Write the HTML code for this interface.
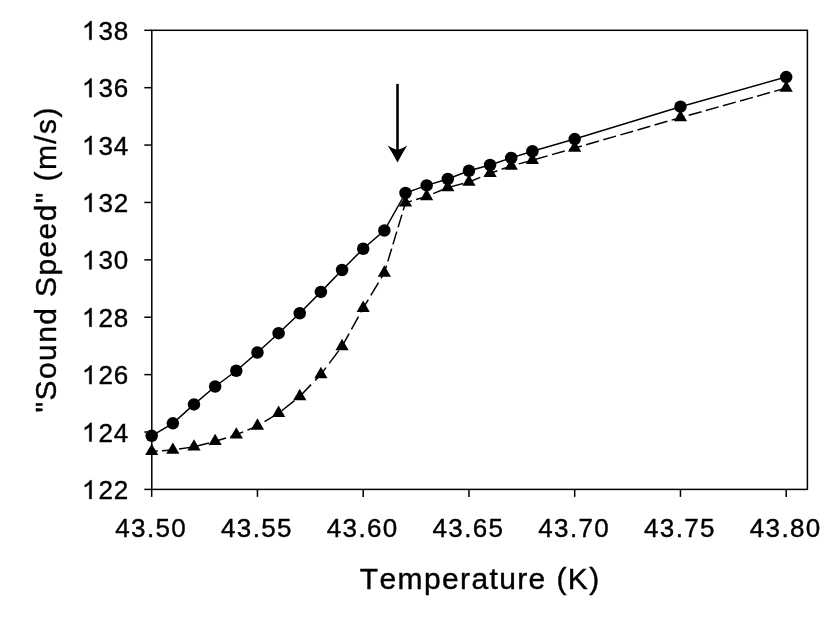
<!DOCTYPE html>
<html><head><meta charset="utf-8"><title>chart</title>
<style>
html,body{margin:0;padding:0;background:#fff;}
body{width:831px;height:626px;overflow:hidden;}
svg{display:block;will-change:transform;}
text{font-family:"Liberation Sans",sans-serif;fill:#000;stroke:#000;stroke-width:0.4px;font-kerning:none;font-feature-settings:"kern" 0;}
.tk{font-size:26px;letter-spacing:1.4px;}
.tt{font-size:30px;letter-spacing:1.5px;}
</style></head><body>
<svg width="831" height="626" viewBox="0 0 831 626">
<rect width="831" height="626" fill="#fff"/>

<g stroke="#000" stroke-width="1.5" fill="none" stroke-linecap="butt">
<rect x="151.8" y="30.3" width="655.5999999999999" height="459.09999999999997"/>
<line x1="144.3" y1="30.30" x2="151.8" y2="30.30"/>
<line x1="144.3" y1="87.69" x2="151.8" y2="87.69"/>
<line x1="144.3" y1="145.07" x2="151.8" y2="145.07"/>
<line x1="144.3" y1="202.46" x2="151.8" y2="202.46"/>
<line x1="144.3" y1="259.85" x2="151.8" y2="259.85"/>
<line x1="144.3" y1="317.24" x2="151.8" y2="317.24"/>
<line x1="144.3" y1="374.62" x2="151.8" y2="374.62"/>
<line x1="144.3" y1="432.01" x2="151.8" y2="432.01"/>
<line x1="144.3" y1="489.40" x2="151.8" y2="489.40"/>
<line x1="151.70" y1="489.4" x2="151.70" y2="496.9"/>
<line x1="257.45" y1="489.4" x2="257.45" y2="496.9"/>
<line x1="363.20" y1="489.4" x2="363.20" y2="496.9"/>
<line x1="468.95" y1="489.4" x2="468.95" y2="496.9"/>
<line x1="574.70" y1="489.4" x2="574.70" y2="496.9"/>
<line x1="680.45" y1="489.4" x2="680.45" y2="496.9"/>
<line x1="786.20" y1="489.4" x2="786.20" y2="496.9"/>
</g>
<text class="tk" style="letter-spacing:1.0px" x="129.3" y="39.80" text-anchor="end">38</text>
<path transform="translate(81.92,39.80) scale(0.012695,-0.012695)" d="M763,0 H583 V1147 Q518,1085 413,1023 Q308,961 224,930 V1104 Q375,1175 488,1276 Q601,1377 648,1472 H763 Z" fill="#000" stroke="#000" stroke-width="31.5"/>
<text class="tk" style="letter-spacing:1.0px" x="129.3" y="97.19" text-anchor="end">36</text>
<path transform="translate(81.92,97.19) scale(0.012695,-0.012695)" d="M763,0 H583 V1147 Q518,1085 413,1023 Q308,961 224,930 V1104 Q375,1175 488,1276 Q601,1377 648,1472 H763 Z" fill="#000" stroke="#000" stroke-width="31.5"/>
<text class="tk" style="letter-spacing:1.0px" x="129.3" y="154.57" text-anchor="end">34</text>
<path transform="translate(81.92,154.57) scale(0.012695,-0.012695)" d="M763,0 H583 V1147 Q518,1085 413,1023 Q308,961 224,930 V1104 Q375,1175 488,1276 Q601,1377 648,1472 H763 Z" fill="#000" stroke="#000" stroke-width="31.5"/>
<text class="tk" style="letter-spacing:1.0px" x="129.3" y="211.96" text-anchor="end">32</text>
<path transform="translate(81.92,211.96) scale(0.012695,-0.012695)" d="M763,0 H583 V1147 Q518,1085 413,1023 Q308,961 224,930 V1104 Q375,1175 488,1276 Q601,1377 648,1472 H763 Z" fill="#000" stroke="#000" stroke-width="31.5"/>
<text class="tk" style="letter-spacing:1.0px" x="129.3" y="269.35" text-anchor="end">30</text>
<path transform="translate(81.92,269.35) scale(0.012695,-0.012695)" d="M763,0 H583 V1147 Q518,1085 413,1023 Q308,961 224,930 V1104 Q375,1175 488,1276 Q601,1377 648,1472 H763 Z" fill="#000" stroke="#000" stroke-width="31.5"/>
<text class="tk" style="letter-spacing:1.0px" x="129.3" y="326.74" text-anchor="end">28</text>
<path transform="translate(81.92,326.74) scale(0.012695,-0.012695)" d="M763,0 H583 V1147 Q518,1085 413,1023 Q308,961 224,930 V1104 Q375,1175 488,1276 Q601,1377 648,1472 H763 Z" fill="#000" stroke="#000" stroke-width="31.5"/>
<text class="tk" style="letter-spacing:1.0px" x="129.3" y="384.12" text-anchor="end">26</text>
<path transform="translate(81.92,384.12) scale(0.012695,-0.012695)" d="M763,0 H583 V1147 Q518,1085 413,1023 Q308,961 224,930 V1104 Q375,1175 488,1276 Q601,1377 648,1472 H763 Z" fill="#000" stroke="#000" stroke-width="31.5"/>
<text class="tk" style="letter-spacing:1.0px" x="129.3" y="441.51" text-anchor="end">24</text>
<path transform="translate(81.92,441.51) scale(0.012695,-0.012695)" d="M763,0 H583 V1147 Q518,1085 413,1023 Q308,961 224,930 V1104 Q375,1175 488,1276 Q601,1377 648,1472 H763 Z" fill="#000" stroke="#000" stroke-width="31.5"/>
<text class="tk" style="letter-spacing:1.0px" x="129.3" y="498.90" text-anchor="end">22</text>
<path transform="translate(81.92,498.90) scale(0.012695,-0.012695)" d="M763,0 H583 V1147 Q518,1085 413,1023 Q308,961 224,930 V1104 Q375,1175 488,1276 Q601,1377 648,1472 H763 Z" fill="#000" stroke="#000" stroke-width="31.5"/>
<text class="tk" x="151.20" y="537" text-anchor="middle">43.50</text>
<text class="tk" x="256.95" y="537" text-anchor="middle">43.55</text>
<text class="tk" x="362.70" y="537" text-anchor="middle">43.60</text>
<text class="tk" x="468.45" y="537" text-anchor="middle">43.65</text>
<text class="tk" x="574.20" y="537" text-anchor="middle">43.70</text>
<text class="tk" x="679.95" y="537" text-anchor="middle">43.75</text>
<text class="tk" x="785.70" y="537" text-anchor="middle">43.80</text>
<text class="tt" style="letter-spacing:1.38px" x="480.15" y="589" text-anchor="middle">Temperature (K)</text>
<text class="tt" style="letter-spacing:1.4px" transform="translate(55.8,259.3) rotate(-90)" text-anchor="middle">"Sound Speed" (m/s)</text>
<polyline points="151.70,435.85 172.85,423.30 194.00,404.40 215.15,386.50 236.30,370.75 257.45,352.50 278.60,333.20 299.75,313.25 320.90,291.90 342.05,270.00 363.20,248.75 384.35,230.50 405.50,193.00 426.65,185.40 447.80,179.00 468.95,170.75 490.10,165.00 511.25,157.90 532.40,151.25 574.70,139.05 680.45,106.70 786.20,77.05" fill="none" stroke="#000" stroke-width="1.5"/>
<path d="M151.70,451.31L157.69,450.95 M161.96,450.70L172.85,450.06 M172.85,450.06L174.78,449.76 M179.06,449.10L191.88,447.13 M196.16,446.24L208.98,442.91 M213.26,441.80L215.15,441.31 M215.15,441.31L226.09,437.94 M230.36,436.63L236.30,434.81 M236.30,434.81L243.19,431.91 M247.46,430.11L257.45,425.91 M257.45,425.91L260.28,424.20 M264.56,421.62L277.38,413.89 M281.66,410.73L294.49,400.57 M298.76,397.19L299.75,396.41 M299.75,396.41L311.06,384.64 M315.15,380.39L320.90,374.41 M320.90,374.41L326.01,367.64 M329.22,363.39L338.85,350.64 M342.06,346.39L349.10,333.64 M351.45,329.39L358.49,316.64 M360.83,312.39L363.20,308.11 M363.20,308.11L368.28,299.64 M370.83,295.39L378.48,282.64 M381.03,278.39L384.35,272.86 M384.35,272.86L386.53,265.64 M387.81,261.39L391.66,248.64 M392.94,244.39L396.79,231.64 M398.08,227.39L401.93,214.64 M403.21,210.39L405.50,202.81 M405.50,202.81L411.89,200.87 M416.17,199.58L426.65,196.41 M426.65,196.41L428.99,195.42 M433.27,193.64L446.09,188.27 M450.37,186.89L463.19,183.55 M467.47,182.44L468.95,182.06 M468.95,182.06L480.29,177.36 M484.57,175.59L490.10,173.31 M490.10,173.31L497.39,170.74 M501.67,169.23L511.25,165.86 M511.25,165.86L514.49,165.00 M518.77,163.86L531.59,160.47 M534.84,159.55L547.67,155.85 M551.94,154.62L564.77,150.92 M569.04,149.69L574.70,148.06 M574.70,148.06L581.87,145.99 M586.14,144.76L598.97,141.06 M603.24,139.82L616.07,136.12 M620.34,134.89L633.17,131.19 M637.44,129.96L650.27,126.26 M654.54,125.03L667.37,121.33 M671.64,120.10L680.45,117.56 M680.45,117.56L684.47,116.43 M688.74,115.24L701.57,111.66 M705.84,110.47L718.67,106.89 M722.94,105.70L735.77,102.12 M740.04,100.93L752.87,97.35 M757.14,96.16L769.97,92.58 M774.24,91.39L786.20,88.06" fill="none" stroke="#000" stroke-width="1.5"/>
<g fill="#000">
<polygon points="151.70,443.68 145.10,455.12 158.30,455.12"/>
<polygon points="172.85,442.43 166.25,453.87 179.45,453.87"/>
<polygon points="194.00,439.18 187.40,450.62 200.60,450.62"/>
<polygon points="215.15,433.68 208.55,445.12 221.75,445.12"/>
<polygon points="236.30,427.18 229.70,438.62 242.90,438.62"/>
<polygon points="257.45,418.28 250.85,429.72 264.05,429.72"/>
<polygon points="278.60,405.53 272.00,416.97 285.20,416.97"/>
<polygon points="299.75,388.78 293.15,400.22 306.35,400.22"/>
<polygon points="320.90,366.78 314.30,378.22 327.50,378.22"/>
<polygon points="342.05,338.78 335.45,350.22 348.65,350.22"/>
<polygon points="363.20,300.48 356.60,311.92 369.80,311.92"/>
<polygon points="384.35,265.23 377.75,276.67 390.95,276.67"/>
<polygon points="405.50,195.18 398.90,206.62 412.10,206.62"/>
<polygon points="426.65,188.78 420.05,200.22 433.25,200.22"/>
<polygon points="447.80,179.93 441.20,191.37 454.40,191.37"/>
<polygon points="468.95,174.43 462.35,185.87 475.55,185.87"/>
<polygon points="490.10,165.68 483.50,177.12 496.70,177.12"/>
<polygon points="511.25,158.23 504.65,169.67 517.85,169.67"/>
<polygon points="532.40,152.63 525.80,164.07 539.00,164.07"/>
<polygon points="574.70,140.43 568.10,151.87 581.30,151.87"/>
<polygon points="680.45,109.93 673.85,121.37 687.05,121.37"/>
<polygon points="786.20,80.43 779.60,91.87 792.80,91.87"/>
<circle cx="151.70" cy="435.85" r="6.25"/>
<circle cx="172.85" cy="423.30" r="6.25"/>
<circle cx="194.00" cy="404.40" r="6.25"/>
<circle cx="215.15" cy="386.50" r="6.25"/>
<circle cx="236.30" cy="370.75" r="6.25"/>
<circle cx="257.45" cy="352.50" r="6.25"/>
<circle cx="278.60" cy="333.20" r="6.25"/>
<circle cx="299.75" cy="313.25" r="6.25"/>
<circle cx="320.90" cy="291.90" r="6.25"/>
<circle cx="342.05" cy="270.00" r="6.25"/>
<circle cx="363.20" cy="248.75" r="6.25"/>
<circle cx="384.35" cy="230.50" r="6.25"/>
<circle cx="405.50" cy="193.00" r="6.25"/>
<circle cx="426.65" cy="185.40" r="6.25"/>
<circle cx="447.80" cy="179.00" r="6.25"/>
<circle cx="468.95" cy="170.75" r="6.25"/>
<circle cx="490.10" cy="165.00" r="6.25"/>
<circle cx="511.25" cy="157.90" r="6.25"/>
<circle cx="532.40" cy="151.25" r="6.25"/>
<circle cx="574.70" cy="139.05" r="6.25"/>
<circle cx="680.45" cy="106.70" r="6.25"/>
<circle cx="786.20" cy="77.05" r="6.25"/>
</g>
<line x1="397.5" y1="83.9" x2="397.5" y2="152" stroke="#000" stroke-width="2.6"/>
<path d="M397.5,162.6 Q392,152 387.6,145.4 Q392.5,148.5 397.5,150 Q402.5,148.5 407.3,145.4 Q403,152 397.5,162.6 Z" fill="#000"/>
</svg></body></html>
